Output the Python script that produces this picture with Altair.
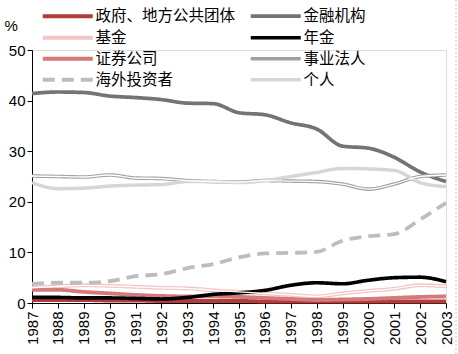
import altair as alt
import pandas as pd

years = [str(y) for y in range(1987, 2004)]

# legend order (column-major: left column first, then right column)
series_names = ["政府、地方公共团体", "基金", "证券公司", "海外投资者", "金融机构", "年金", "事业法人", "个人"]
series_colors = ["#b53a3a", "#f2c6c6", "#d47a7a", "#bdbdbd", "#747474", "#000000", "#a0a0a0", "#d6d6d6"]
series_dash = [[1, 0], [1, 0], [1, 0], [12, 7], [1, 0], [1, 0], [1, 0], [1, 0]]
series_width = [4, 3.5, 5, 5, 4, 4, 4.5, 5]

gov = [0.6, 0.6, 0.6, 0.5, 0.5, 0.4, 0.4, 0.4, 0.4, 0.3, 0.3, 0.3, 0.3, 0.3, 0.3, 0.3, 0.3]
fin = [41.4, 41.7, 41.6, 40.9, 40.6, 40.2, 39.5, 39.4, 37.6, 37.2, 35.6, 34.4, 31.0, 30.6, 28.8, 25.9, 24.0]
fund = [3.0, 3.3, 3.5, 3.4, 3.2, 3.0, 2.9, 2.5, 2.2, 1.9, 1.6, 1.3, 1.9, 2.4, 2.8, 3.5, 3.3]
pension = [1.1, 1.1, 1.0, 1.0, 0.9, 0.8, 1.1, 1.7, 2.0, 2.5, 3.5, 4.0, 3.8, 4.5, 5.0, 5.1, 4.2]
sec = [2.6, 2.6, 2.2, 1.9, 1.6, 1.4, 1.3, 1.3, 1.2, 1.0, 0.8, 0.6, 0.7, 0.8, 1.0, 1.2, 1.3]
corp = [25.1, 25.0, 24.9, 25.3, 24.7, 24.6, 24.2, 24.0, 23.9, 24.2, 24.1, 24.0, 23.5, 22.5, 23.5, 25.0, 25.3]
foreign = [3.8, 4.0, 4.0, 4.3, 5.3, 5.7, 6.9, 7.7, 9.0, 9.8, 9.9, 10.1, 12.3, 13.2, 13.6, 16.5, 19.8]
indiv = [23.8, 22.6, 22.7, 23.1, 23.3, 23.4, 24.0, 24.0, 23.8, 24.2, 25.0, 25.8, 26.6, 26.5, 26.2, 23.8, 23.0]

values = {
    "政府、地方公共团体": gov, "金融机构": fin, "基金": fund, "年金": pension,
    "证券公司": sec, "事业法人": corp, "海外投资者": foreign, "个人": indiv,
}
draw_order = {"个人": 0, "事业法人": 1, "金融机构": 2, "海外投资者": 3, "基金": 4, "年金": 5, "证券公司": 6, "政府、地方公共团体": 7}

rows = []
for name in series_names:
    for yr, v in zip(years, values[name]):
        rows.append({"year": yr, "value": v, "series": name, "z": draw_order[name]})
df = pd.DataFrame(rows)

FONT = "Liberation Sans"
CJK = "Noto Sans CJK SC"

x_enc = alt.X("year:O", scale=alt.Scale(type="point", padding=0),
              axis=alt.Axis(title=None, labelAngle=270, labelAlign="right", labelBaseline="middle",
                            labelFont=FONT, labelFontSize=15, labelColor="#000", labelPadding=3,
                            tickSize=5, tickColor="#000", domainColor="#000", grid=False))
y_enc = alt.Y("value:Q", scale=alt.Scale(domain=[0, 50], nice=False),
              axis=alt.Axis(values=[0, 10, 20, 30, 40, 50], title="%", titleAngle=0,
                            titleX=-28, titleY=-25, titleAlign="left", titleBaseline="middle",
                            titleFont=FONT, titleFontSize=15, titleFontWeight="normal", titleColor="#000",
                            labelFont=FONT, labelFontSize=15, labelColor="#000", labelPadding=2,
                            tickSize=5, tickColor="#000", domainColor="#000", grid=False))

lines = alt.Chart(df).mark_line(interpolate="monotone", strokeCap="butt").encode(
    x=x_enc, y=y_enc,
    color=alt.Color("series:N", scale=alt.Scale(domain=series_names, range=series_colors),
                    legend=alt.Legend(title=None, orient="none", legendX=28, legendY=-42, columns=2,
                                      symbolType="M-5,0H5", symbolSize=100, symbolStrokeWidth=4,
                                      labelFont=CJK, labelFontSize=15.5, labelColor="#000",
                                      rowPadding=4, columnPadding=7, labelOffset=20)),
    strokeDash=alt.StrokeDash("series:N", scale=alt.Scale(domain=series_names, range=series_dash)),
    strokeWidth=alt.StrokeWidth("series:N", scale=alt.Scale(domain=series_names, range=series_width), legend=None),
    order=alt.Order("z:Q"),
)

inner = alt.Chart(df).transform_filter(
    alt.FieldOneOfPredicate(field="series", oneOf=["事业法人", "基金"])
).mark_line(interpolate="monotone", color="white", strokeWidth=1.3).encode(
    x="year:O", y="value:Q", detail="series:N"
)

border = alt.Chart(pd.DataFrame({"a": [0]})).mark_rule(color="#c8c8c8", strokeDash=[2, 2], strokeWidth=1).encode(
    x=alt.value(424), y=alt.value(-50), y2=alt.value(304)
)

chart = alt.layer(lines, inner, border).properties(
    width=414, height=253,
    autosize=alt.AutoSizeParams(type="none"),
    padding={"left": 32, "top": 50, "right": 12, "bottom": 51},
).configure_view(stroke=None).configure(background="white")

chart.save("out.html", embed_options={"renderer": "svg", "actions": False})
